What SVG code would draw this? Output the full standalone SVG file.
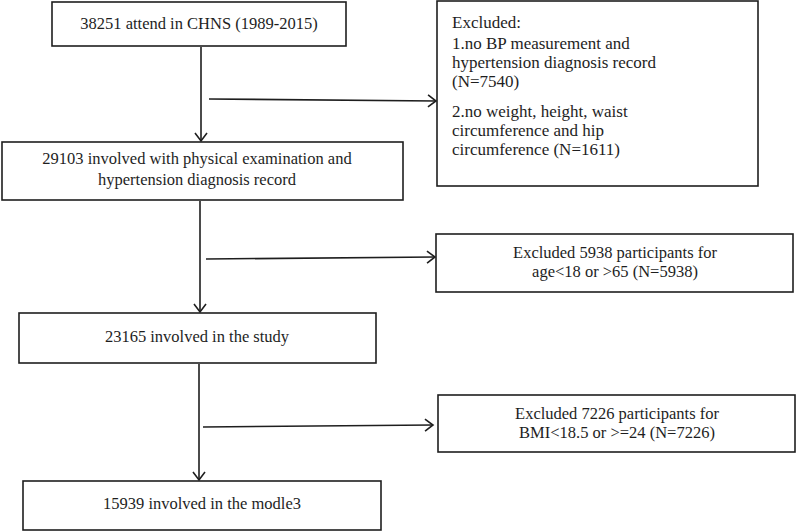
<svg xmlns="http://www.w3.org/2000/svg" width="796" height="531" viewBox="0 0 796 531">
<style>
.box{fill:#fff;stroke:#1e1e1e;stroke-width:1.6}
.t{font-family:"Liberation Serif","Times New Roman",serif;font-size:16.5px;fill:#1e1e1e}
.e{font-size:17px}
.c{text-anchor:middle}
.ln{stroke:#1e1e1e;stroke-width:1.6;fill:none}
</style>
<defs>
<marker id="ah" markerUnits="userSpaceOnUse" markerWidth="14" markerHeight="14" viewBox="-10 -7 12 14" refX="0" refY="0" orient="auto">
<path d="M-8,-6 L0,0 L-8,6" fill="none" stroke="#1e1e1e" stroke-width="1.6"/>
</marker>
</defs>
<rect width="796" height="531" fill="#fff"/>
<g id="connectors">
<line class="ln" x1="201" y1="47" x2="201" y2="141" marker-end="url(#ah)"/>
<line class="ln" x1="209" y1="99" x2="436" y2="101" marker-end="url(#ah)"/>
<line class="ln" x1="200" y1="201" x2="200" y2="312" marker-end="url(#ah)"/>
<line class="ln" x1="206" y1="259" x2="435" y2="257" marker-end="url(#ah)"/>
<line class="ln" x1="199" y1="364" x2="199" y2="480" marker-end="url(#ah)"/>
<line class="ln" x1="203" y1="427" x2="433" y2="425" marker-end="url(#ah)"/>
</g>
<g id="n1">
<rect class="box" x="52" y="2" width="294" height="44"/>
<text class="t c" x="199" y="29">38251 attend in CHNS (1989-2015)</text>
</g>
<g id="ex1">
<rect class="box" x="437" y="1" width="321" height="185"/>
<text class="t e" x="452" y="28">Excluded:</text>
<text class="t e" x="452" y="49">1.no BP measurement and</text>
<text class="t e" x="452" y="68">hypertension diagnosis record</text>
<text class="t e" x="452" y="87">(N=7540)</text>
<text class="t e" x="452" y="117">2.no weight, height, waist</text>
<text class="t e" x="452" y="136">circumference and hip</text>
<text class="t e" x="452" y="155">circumference (N=1611)</text>
</g>
<g id="n2">
<rect class="box" x="2" y="142" width="401" height="58"/>
<text class="t c" x="197" y="164">29103 involved with physical examination and</text>
<text class="t c" x="197" y="185">hypertension diagnosis record</text>
</g>
<g id="ex2">
<rect class="box" x="436" y="234" width="357" height="58"/>
<text class="t c" x="615" y="258">Excluded 5938 participants for</text>
<text class="t c" x="615" y="277">age&lt;18 or &gt;65 (N=5938)</text>
</g>
<g id="n3">
<rect class="box" x="19" y="313" width="357" height="50"/>
<text class="t c" x="197" y="342">23165 involved in the study</text>
</g>
<g id="ex3">
<rect class="box" x="438" y="395" width="357" height="57"/>
<text class="t c" x="617" y="419">Excluded 7226 participants for</text>
<text class="t c" x="617" y="438">BMI&lt;18.5 or &gt;=24 (N=7226)</text>
</g>
<g id="n4">
<rect class="box" x="23" y="481" width="358" height="49"/>
<text class="t c" x="202" y="509">15939 involved in the modle3</text>
</g>
</svg>
